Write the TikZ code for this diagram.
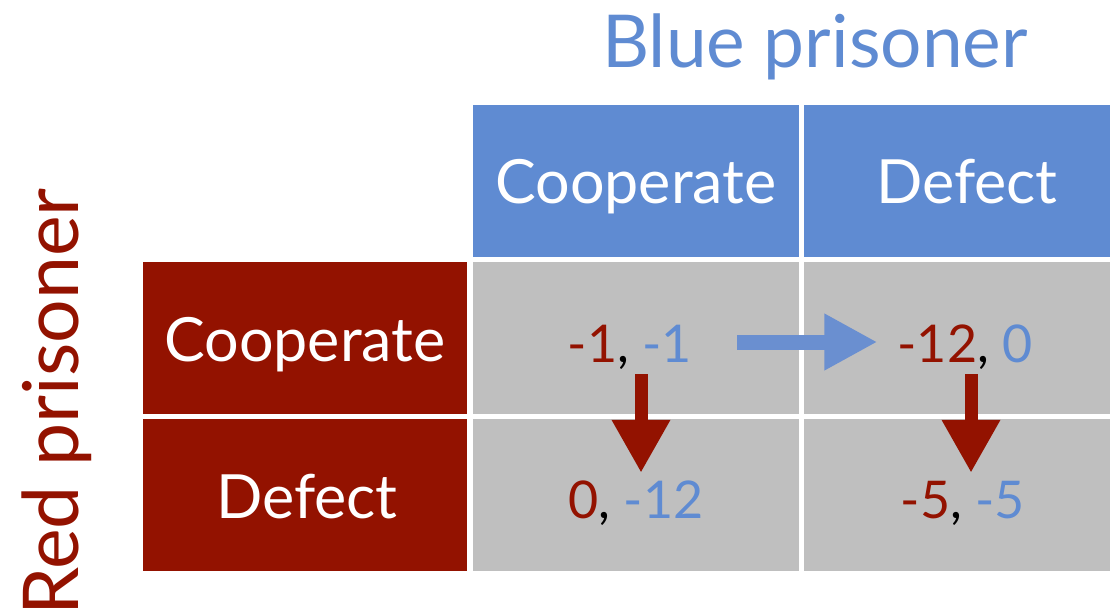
\documentclass[tikz,border=0pt]{standalone}
\usepackage{fontspec}
\setmainfont{Lato}
\usetikzlibrary{arrows.meta}
\definecolor{pblue}{HTML}{5F8BD2}
\definecolor{pred}{HTML}{931200}
\definecolor{pgray}{HTML}{BFBFBF}
\definecolor{parrow}{HTML}{6A8FD0}
\tikzset{
  cell/.style={draw=none, inner sep=0pt, outer sep=0pt, minimum height=152pt},
  bluecell/.style={cell, fill=pblue},
  redcell/.style={cell, fill=pred, minimum width=324pt},
  graycell/.style={cell, fill=pgray},
  celltext/.style={inner sep=0pt, anchor=base, text=white, font=\fontsize{61}{70}\selectfont},
  numtext/.style={inner sep=0pt, anchor=base, text height=37pt, text depth=0pt, font=\fontsize{52}{60}\selectfont},
  bluearrow/.style={draw=parrow, line width=15pt, -{Triangle[length=53pt,width=53pt]}},
  redarrow/.style={draw=pred, line width=13pt, -{Triangle[length=53pt,width=55pt]}},
}
\newcommand{\R}[1]{\textcolor{pred}{#1}}
\newcommand{\B}[1]{\textcolor{pblue}{#1}}
\begin{document}
\begin{tikzpicture}[x=1pt,y=-1pt]
\useasboundingbox (0,0) rectangle (1110,615);
% header cells
\node[bluecell, minimum width=326pt] (bh1) at (636,181) {};
\node[bluecell, minimum width=306pt] (bh2) at (957,181) {};
\node[redcell] (rh1) at (305,338) {};
\node[redcell] (rh2) at (305,495) {};
% payoff cells
\node[graycell, minimum width=326pt] (g11) at (636,338) {};
\node[graycell, minimum width=306pt] (g12) at (957,338) {};
\node[graycell, minimum width=326pt] (g21) at (636,495) {};
\node[graycell, minimum width=306pt] (g22) at (957,495) {};
% titles
\node[inner sep=0pt, anchor=base, text=pblue, font=\fontsize{73}{80}\selectfont] (blue) at (815,68) {Blue prisoner};
\node[inner sep=0pt, anchor=base west, rotate=90, text=pred, font=\fontsize{77}{86}\selectfont] (red) at (78,616) {Red prisoner};
% header labels
\node[celltext] (bc) at (636,203) {Cooperate};
\node[celltext] (bd) at (967,203) {Defect};
\node[celltext] (rc) at (305,361) {Cooperate};
\node[celltext] (rd) at (307,518) {Defect};
% payoffs
\node[numtext] (n11) at (630,362) {\R{-1}, \B{-1}};
\node[numtext] (n12) at (965,362) {\R{-12}, \B{0}};
\node[numtext] (n21) at (636,518) {\R{0}, \B{-12}};
\node[numtext] (n22) at (963,518) {\R{-5}, \B{-5}};
% arrows
\draw[bluearrow] ([xshift=45pt,yshift=1.5pt]n11.east) -- ([xshift=-20pt,yshift=1.5pt]n12.west);
\draw[redarrow] ([xshift=11pt,yshift=-12pt]n11.south) -- ([xshift=11pt,yshift=8pt]n11.south |- n21.north);
\draw[redarrow] ([xshift=6pt,yshift=-12pt]n12.south) -- ([xshift=6pt,yshift=8pt]n12.south |- n22.north);
\end{tikzpicture}
\end{document}
